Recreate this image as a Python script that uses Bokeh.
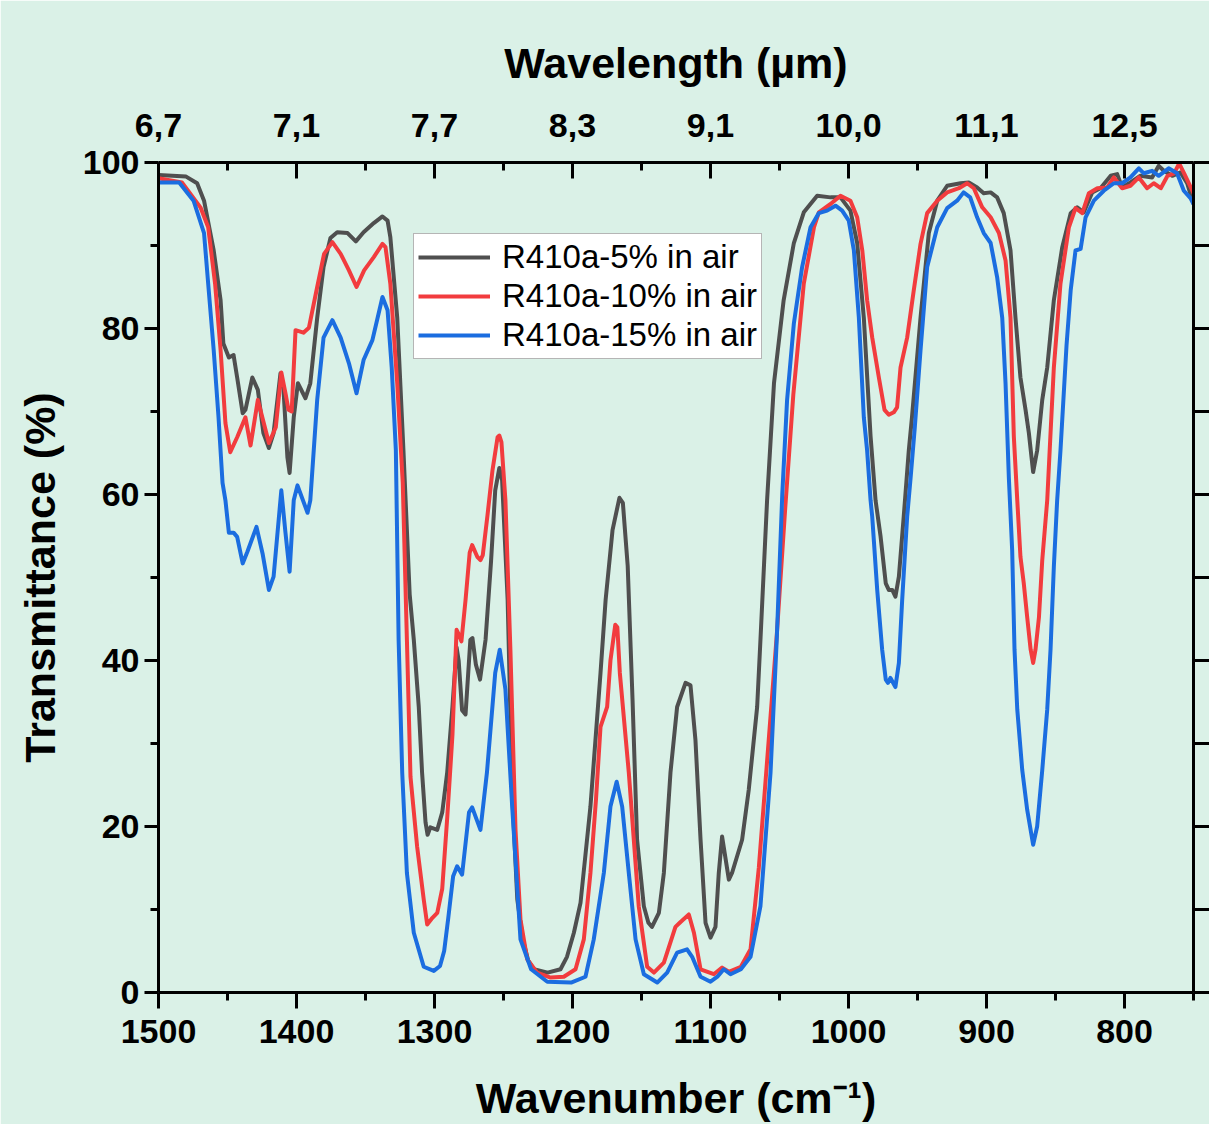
from bokeh.plotting import figure
from bokeh.models import (Range1d, LinearAxis, FixedTicker, Legend, LegendItem,
                          ColumnDataSource, CustomJSTickFormatter)
from bokeh.embed import file_html
from bokeh.resources import INLINE

# ---------------- data (wavenumber cm-1, transmittance %) ----------------
spec_5 = [
    (1500, 98.5), (1490, 98.4), (1480, 98.3), (1472, 97.5), (1467, 95.4), (1460, 89.4), (1455, 83.4), (1453, 78.2), (1449, 76.5), (1445.6, 76.8),
    (1443, 74.1), (1439, 69.8), (1437, 70.2), (1432, 74.1), (1428, 72.6), (1424, 67.4), (1420, 65.6), (1416.6, 67.4), (1411.6, 74.6), (1409.4, 72.6),
    (1406.6, 64.5), (1405, 62.6), (1402, 69.3), (1399, 73.4), (1393.5, 71.6), (1390, 73.4), (1385, 81.3), (1380.4, 87.4), (1375.4, 90.9), (1370.5, 91.6),
    (1363, 91.5), (1357, 90.5), (1351.4, 91.6), (1344, 92.7), (1337.7, 93.5), (1334, 93), (1332, 91), (1327, 81.3), (1322.5, 65.3), (1318, 48),
    (1315, 42.5), (1311.4, 34.4), (1309, 26.5), (1306.5, 20.5), (1305, 19), (1303, 19.9), (1298, 19.6), (1294.4, 21.7), (1290.8, 26.5), (1287, 34.4),
    (1284, 41.6), (1282.5, 40), (1280, 34), (1277.5, 33.5), (1274, 42.5), (1272.5, 42.7), (1270, 39.5), (1267, 37.7), (1263, 42.5), (1259, 52),
    (1256, 60.5), (1253, 63.2), (1251, 61.7), (1247, 47.3), (1243.5, 23.2), (1240, 11.2), (1236, 6.4), (1232, 3.8), (1228, 2.8), (1218, 2.4),
    (1208.7, 2.8), (1204, 4.3), (1199, 7.2), (1194.2, 10.8), (1187, 22.4), (1179.7, 38.5), (1176, 47.3), (1171, 55.7), (1166, 59.6), (1163.5, 59),
    (1160, 51.4), (1156.5, 35.3), (1153.2, 18.4), (1148.3, 10.4), (1145, 8.4), (1142.4, 7.9), (1137.4, 9.6), (1133.8, 14.4), (1129, 26.5), (1124.2, 34.4),
    (1118.1, 37.3), (1114.5, 37), (1110.9, 30.4), (1107.2, 18.4), (1103.6, 8.4), (1100, 6.6), (1096.4, 7.9), (1094, 14.4), (1091.6, 18.8), (1086.7, 13.6),
    (1084.4, 14.4), (1077.1, 18.4), (1072.3, 24.4), (1066.2, 34.4), (1063.8, 42.5), (1059, 59.3), (1054, 73.4), (1047, 83.4), (1039.6, 90.3), (1032.4, 94),
    (1022.7, 96), (1013, 95.8), (1005.8, 95.8), (998.6, 94.2), (993.7, 90.3), (988.9, 81.3), (984, 67), (980.4, 59.3), (976.8, 55), (973, 49.3),
    (970.8, 48.5), (968.3, 48.5), (966, 47.7), (963.5, 50.1), (960, 57.3), (956.3, 65.3), (954, 69.3), (947.8, 81.3), (941.8, 91.5), (935.7, 95.4),
    (928.5, 97.2), (918.8, 97.5), (912.8, 97.6), (906.8, 97), (902, 96.3), (897, 96.4), (892.3, 95.8), (887.5, 93.9), (882.6, 89.4), (879, 81.3),
    (875.4, 74.1), (871.7, 70.2), (869.3, 67.4), (866.2, 62.7), (863.3, 65.3), (859.6, 71.4), (856, 75.3), (851.2, 83.4), (845.1, 89.8), (839, 93.9),
    (834.3, 94.6), (829.5, 94), (823.4, 96.4), (817.4, 96.9), (810, 98.4), (805.3, 98.6), (801.7, 97), (795.7, 97.6), (788.4, 98.4), (780, 98.2),
    (775.2, 99.6), (771.5, 99), (765.4, 98.4), (759.4, 98.8), (754.6, 97.5), (750, 95),
]

spec_10 = [
    (1500, 98.1), (1483, 97.6), (1469.6, 94.6), (1464, 92.2), (1459, 85.4), (1455, 77.4), (1451.5, 68.6), (1448, 65.1), (1443, 66.9), (1437, 69.3),
    (1433.3, 65.9), (1428, 71.4), (1420, 66.2), (1415, 68.1), (1411, 74.7), (1408, 72.2), (1405.8, 70.2), (1403.5, 70), (1400.7, 79.8), (1395, 79.5),
    (1391, 80.1), (1385, 85), (1380, 89), (1374, 90.4), (1368, 89), (1362, 87), (1356.5, 85), (1351, 87), (1344, 88.6), (1337.7, 90.2),
    (1335.5, 89.8), (1332, 85.4), (1327, 73.4), (1323, 61.4), (1320, 42.5), (1317.4, 26), (1312.6, 17.6), (1307.8, 11.2), (1305.3, 8.2), (1301.5, 9),
    (1298, 9.6), (1294.4, 12.5), (1290.8, 21), (1287, 31), (1284, 43.7), (1282, 43), (1280.5, 42.3), (1277.5, 47.3), (1274.5, 53), (1272.7, 53.9),
    (1269, 52.5), (1266.7, 52.1), (1265, 52.7), (1261.6, 57.5), (1258, 62.9), (1254.3, 66.9), (1253, 67.1), (1251.5, 66.3), (1248.6, 59.3), (1245, 41.3),
    (1241.3, 19.6), (1237.7, 8.8), (1232.8, 4), (1225.6, 2.4), (1215.9, 1.8), (1206.3, 1.9), (1197.8, 2.8), (1191.8, 6.4), (1187, 14.4), (1183, 23.2),
    (1179.7, 32), (1174.9, 34.4), (1172.5, 40), (1169, 44.3), (1167.5, 44), (1165.7, 38.5), (1159.2, 26.5), (1152, 10.4), (1145.9, 3.1), (1141, 2.4),
    (1133.8, 3.6), (1125.4, 7.9), (1121.7, 8.5), (1115.7, 9.4), (1112, 7.2), (1107.2, 2.8), (1097.6, 2.2), (1091.6, 3), (1086.7, 2.5), (1078, 3.1),
    (1071, 5.2), (1065, 15), (1058, 30), (1052, 43), (1046, 58), (1040, 72), (1032.4, 85.4), (1025, 92.2), (1021.5, 94), (1013, 95),
    (1005.8, 96), (998.6, 95.4), (993.7, 93.4), (990, 89.4), (986.5, 83.4), (982.8, 78.9), (978, 74.1), (973.9, 70.2), (970.8, 69.6), (967.2, 69.9),
    (964.8, 70.5), (962.3, 75.3), (957.5, 78.9), (952.7, 84.6), (947.8, 90.2), (943, 93.9), (935.7, 95.4), (928.5, 96.4), (920, 96.9), (914, 97.5),
    (909.2, 96.9), (903.1, 94.6), (897, 93.4), (891, 91.5), (886.2, 88.2), (882.6, 81.3), (880.2, 67), (877.7, 59.3), (875.4, 52.5), (873, 49.3),
    (870.5, 45.2), (868, 41.3), (866.2, 39.7), (864.5, 41.3), (862, 45.2), (859.6, 52.1), (856, 59.3), (853.6, 67.4), (851.2, 75.3), (846.4, 85.4),
    (840.3, 92.2), (835.5, 94.5), (830.6, 93.9), (825.8, 96.3), (819.7, 96.9), (812.5, 97), (807.7, 98.2), (801.7, 96.9), (795.7, 97.2), (789.6, 98.2),
    (783.6, 96.9), (778.8, 97.5), (773.7, 96.9), (768.8, 98.4), (764, 98.7), (760.4, 99.9), (756.8, 98.7), (750, 96.3),
]

spec_15 = [
    (1500, 97.6), (1485, 97.6), (1474.6, 95.4), (1467, 91.5), (1464, 85.4), (1460, 77.4), (1456.5, 69.3), (1453.6, 61.4), (1451.5, 59.3), (1449, 55.4),
    (1445.6, 55.4), (1443, 54.9), (1439, 51.7), (1435.6, 53.1), (1429, 56.1), (1424.6, 52.9), (1420, 48.5), (1416.6, 50.1), (1411, 60.5), (1408, 55.4),
    (1405, 50.7), (1402, 59.3), (1399.3, 61.1), (1392, 57.8), (1390, 59.3), (1385, 71.4), (1380.4, 78.9), (1374, 81), (1368, 78.9), (1362, 75.8),
    (1356.5, 72.2), (1351.4, 76.2), (1345, 78.6), (1337.7, 83.8), (1334, 82.2), (1331, 75.3), (1328, 65.3), (1326, 42.5), (1323.4, 26.5), (1320, 14.4),
    (1315, 7.2), (1307.8, 3.1), (1300.5, 2.6), (1296, 3.2), (1293, 5), (1290, 9), (1286.5, 14), (1283.6, 15.2), (1280, 14.2), (1275, 21.7),
    (1272.7, 22.3), (1266.7, 19.6), (1262, 26.5), (1256, 38.5), (1252.7, 41.3), (1248.6, 36.5), (1243.7, 22.4), (1237.7, 6.4), (1230, 2.8), (1218.3, 1.3),
    (1201, 1.2), (1190.6, 1.9), (1184.6, 6.4), (1177.3, 14.4), (1172.5, 22.4), (1168, 25.4), (1164, 22.4), (1159.2, 14.4), (1154.3, 6.4), (1148.3, 2.2),
    (1138.6, 1.2), (1131.4, 2.4), (1124.2, 4.8), (1117, 5.2), (1113.3, 4.3), (1107.2, 1.9), (1100, 1.3), (1095, 1.9), (1090.4, 2.8), (1085.5, 2.2),
    (1078, 2.8), (1071, 4.3), (1063.8, 10.4), (1056.5, 26.5), (1052, 42.5), (1048, 60), (1044.5, 71.4), (1039.6, 80.6), (1033.6, 87.4), (1027.5, 92.2),
    (1021.5, 93.9), (1015.5, 94.2), (1009.4, 94.8), (1004.6, 94.2), (999.8, 93), (996.1, 89.4), (992.5, 81.3), (988.9, 69.3), (986.5, 65.3), (984, 59.3),
    (982.8, 57.3), (979.2, 48.5), (975.6, 41.3), (973, 37.7), (971.4, 37.3), (969.6, 37.9), (966, 36.8), (963.5, 39.7), (961.1, 47.3), (957.5, 57.3),
    (955, 62), (952, 68), (947.8, 77.4), (943, 87.4), (935.7, 92.2), (928.5, 94.5), (921.3, 95.4), (916.6, 96.4), (911.8, 95.8), (906.8, 93.4),
    (902, 91.5), (897, 90.3), (892.3, 86.2), (888.6, 81.3), (886.2, 73.4), (883.8, 62), (881.4, 53.3), (879.7, 41.3), (877.7, 34.1), (874.1, 26.8),
    (870.5, 22), (866.2, 17.8), (863.3, 20), (859.6, 26.8), (856, 34.1), (853.6, 41.3), (851.2, 51.3), (848.8, 59.3), (846.4, 65.3), (842, 78),
    (839, 84.6), (835.5, 89.4), (831.8, 89.6), (828.2, 93.4), (822.2, 95.4), (815, 96.6), (807.7, 97.5), (801.7, 97.5), (795.7, 98.2), (789.6, 99.3),
    (786, 98.7), (780, 99), (775.2, 98.4), (768, 99.3), (761.9, 98.7), (757, 96.6), (752.2, 95.7), (750, 95),
]

series_labels = ["R410a-5% in air", "R410a-10% in air", "R410a-15% in air"]
series_colors = ["#4f4f4f", "#f23c3e", "#1b6de0"]

wavenumber_ticks = [1500, 1400, 1300, 1200, 1100, 1000, 900, 800]
wavenumber_minor = [1450, 1350, 1250, 1150, 1050, 950, 850, 750]
wavelength_labels = ["6,7", "7,1", "7,7", "8,3", "9,1", "10,0", "11,1", "12,5"]
y_ticks = [0, 20, 40, 60, 80, 100]
y_minor = [10, 30, 50, 70, 90]
y_all = [0, 10, 20, 30, 40, 50, 60, 70, 80, 90, 100]

BG = "#daf1e7"
FONT = "Liberation Sans"

p = figure(width=1209, height=1124,
           x_range=Range1d(1500, 750), y_range=Range1d(0, 100),
           output_backend="svg", toolbar_location=None,
           x_axis_location=None, y_axis_location=None,
           min_border_left=158, min_border_right=16,
           min_border_top=162, min_border_bottom=131,
           background_fill_color=BG, border_fill_color=BG)
p.grid.visible = False
p.outline_line_color = None


def style(ax):
    ax.axis_line_width = 3
    ax.axis_line_color = "black"
    ax.major_tick_line_width = 3
    ax.minor_tick_line_width = 3
    ax.major_tick_line_color = "black"
    ax.minor_tick_line_color = "black"
    ax.major_label_text_font = FONT
    ax.major_label_text_font_style = "bold"
    ax.major_label_text_font_size = "34px"
    ax.major_label_text_color = "black"
    ax.axis_label_text_font = FONT
    ax.axis_label_text_font_style = "bold"
    ax.axis_label_text_font_size = "43px"
    ax.axis_label_text_color = "black"


xb = LinearAxis(ticker=FixedTicker(ticks=wavenumber_ticks, minor_ticks=wavenumber_minor),
                axis_label="Wavenumber (cm\u207b\u00b9)")
style(xb)
xb.major_tick_out = 16
xb.major_tick_in = 0
xb.minor_tick_out = 8
xb.minor_tick_in = 0
xb.major_label_standoff = 11
xb.axis_label_standoff = 28
p.add_layout(xb, "below")

xt = LinearAxis(ticker=FixedTicker(ticks=wavenumber_ticks, minor_ticks=wavenumber_minor),
                axis_label="Wavelength (\u00b5m)",
                formatter=CustomJSTickFormatter(
                    args=dict(vals=wavenumber_ticks, labels=wavelength_labels),
                    code="const i = vals.indexOf(Math.round(tick)); return i >= 0 ? labels[i] : '';"))
style(xt)
xt.major_tick_out = 0
xt.major_tick_in = 16
xt.minor_tick_out = 0
xt.minor_tick_in = 8
xt.major_label_standoff = 26
xt.axis_label_standoff = 24
p.add_layout(xt, "above")

yl = LinearAxis(ticker=FixedTicker(ticks=y_ticks, minor_ticks=y_minor),
                axis_label="Transmittance (%)")
style(yl)
yl.major_tick_out = 14
yl.major_tick_in = 0
yl.minor_tick_out = 8
yl.minor_tick_in = 0
yl.major_label_standoff = 5
yl.axis_label_standoff = 16
p.add_layout(yl, "left")

# right axis: ticks only (all drawn as minor ticks, so no labels are produced)
yr = LinearAxis(ticker=FixedTicker(ticks=[], minor_ticks=y_all))
style(yr)
yr.major_tick_out = 0
yr.major_tick_in = 0
yr.minor_tick_out = 16
yr.minor_tick_in = 0
p.add_layout(yr, "right")

items = []
for spec, lab, col in zip([spec_5, spec_10, spec_15], series_labels, series_colors):
    src = ColumnDataSource(dict(x=[a for a, b in spec], y=[b for a, b in spec]))
    r = p.line("x", "y", source=src, line_color=col, line_width=4, line_join="round")
    items.append(LegendItem(label=lab, renderers=[r]))

legend = Legend(items=items, location=(255, 633))
legend.border_line_color = "#6b6b6b"
legend.border_line_width = 1.5
legend.background_fill_color = "white"
legend.background_fill_alpha = 1
legend.label_text_font = FONT
legend.label_text_font_size = "33px"
legend.label_text_color = "black"
legend.glyph_width = 72
legend.glyph_height = 38
legend.label_height = 38
legend.label_standoff = 12
legend.spacing = 1
legend.padding = 4
legend.margin = 0
p.add_layout(legend, "center")

open("out.html", "w").write(file_html(p, INLINE))
